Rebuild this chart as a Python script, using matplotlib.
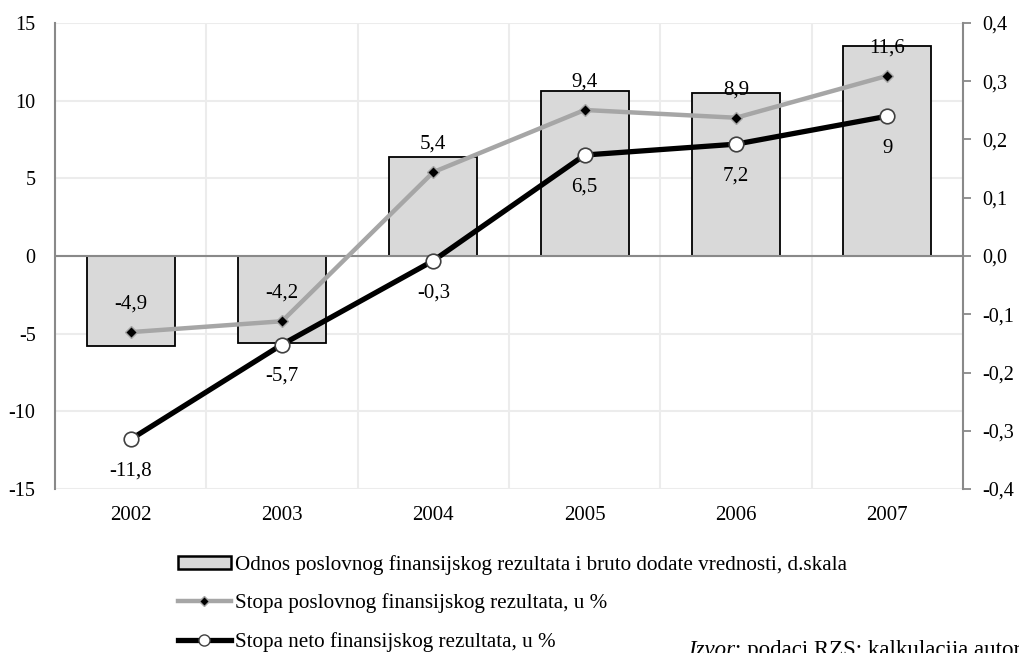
import matplotlib
matplotlib.use("Agg")
from matplotlib import pyplot as plt
from matplotlib.lines import Line2D
from matplotlib.patches import Patch

years = ["2002", "2003", "2004", "2005", "2006", "2007"]
# bars, right scale (d.skala)
odnos = [-0.155, -0.149, 0.170, 0.283, 0.280, 0.360]
# lines, left scale
stopa_poslovnog = [-4.9, -4.2, 5.4, 9.4, 8.9, 11.6]
stopa_neto = [-11.8, -5.7, -0.3, 6.5, 7.2, 9.0]

left_ticks = [-15, -10, -5, 0, 5, 10, 15]
right_ticks = [-0.4, -0.3, -0.2, -0.1, 0.0, 0.1, 0.2, 0.3, 0.4]

labels = [
    "Odnos poslovnog finansijskog rezultata i bruto dodate vrednosti, d.skala",
    "Stopa poslovnog finansijskog rezultata, u %",
    "Stopa neto finansijskog rezultata, u %",
]

plt.rcParams["font.family"] = ["Liberation Serif", "DejaVu Serif"]
FS = 15
SPINE = "#898989"
GRID = "#ECECEC"
BAR = "#D9D9D9"
GRAY_LINE = "#A6A6A6"


def fmt(v):
    if v == int(v) and abs(v) >= 1:
        return str(int(v))
    return f"{v:.1f}".replace(".", ",")


fig = plt.figure(figsize=(10.19, 6.53), dpi=100)
ax = fig.add_axes([0.054, 0.2511, 0.891, 0.7137])
ax_bar = ax.twinx()
ax_line = ax.twinx()

x = list(range(len(years)))

# background grid on left scale
ax.set_xlim(-0.5, len(years) - 0.5)
ax.set_ylim(-15, 15)
for t in left_ticks:
    ax.axhline(t, color=GRID, lw=1.5, zorder=0)
for b in range(1, len(years)):
    ax.axvline(b - 0.5, color=GRID, lw=1.5, zorder=0)
ax.set_yticks(left_ticks)
ax.set_yticklabels([str(t) for t in left_ticks], fontsize=14.5)
ax.tick_params(axis="y", length=0, pad=14)
ax.set_xticks(x)
ax.set_xticklabels(years, fontsize=FS)
ax.tick_params(axis="x", length=0, pad=12)
for side in ("top", "right", "bottom"):
    ax.spines[side].set_visible(False)
ax.spines["left"].set_color(SPINE)
ax.spines["left"].set_linewidth(1.5)

# bars on right scale
ax_bar.bar(x, odnos, width=0.58, color=BAR, edgecolor="black",
           linewidth=1.3, zorder=2)
ax_bar.axhline(0, color=SPINE, lw=1.5, zorder=3)
ax_bar.set_ylim(-0.4, 0.4)
ax_bar.set_yticks(right_ticks)
ax_bar.set_yticklabels([fmt(t) for t in right_ticks], fontsize=14.5)
ax_bar.tick_params(axis="y", length=6, width=1.3, color=SPINE, pad=8)
for side in ("top", "left", "bottom"):
    ax_bar.spines[side].set_visible(False)
ax_bar.spines["right"].set_color(SPINE)
ax_bar.spines["right"].set_linewidth(1.5)

# lines on left scale
ax_line.set_ylim(-15, 15)
ax_line.axis("off")
ax_line.plot(x, stopa_poslovnog, color=GRAY_LINE, lw=3.2, marker="D",
             markersize=6.5, markerfacecolor="black", markeredgecolor=GRAY_LINE,
             markeredgewidth=1, zorder=4)
ax_line.plot(x, stopa_neto, color="black", lw=3.8, marker="o",
             markersize=10.5, markerfacecolor="white", markeredgecolor="#404040",
             markeredgewidth=1.2, zorder=5)
for xi, v in zip(x, stopa_poslovnog):
    ax_line.annotate(fmt(v), (xi, v), xytext=(0, 20), textcoords="offset points",
                     ha="center", va="center", fontsize=FS)
for xi, v in zip(x, stopa_neto):
    ax_line.annotate(fmt(v), (xi, v), xytext=(0, -23), textcoords="offset points",
                     ha="center", va="center", fontsize=FS)

# legend
handles = [
    Patch(facecolor=BAR, edgecolor="black", linewidth=1.8),
    Line2D([], [], color=GRAY_LINE, lw=3.2, marker="D", markersize=5,
           markerfacecolor="black", markeredgecolor=GRAY_LINE),
    Line2D([], [], color="black", lw=3.8, marker="o", markersize=8,
           markerfacecolor="white", markeredgecolor="#404040"),
]
fig.legend(handles, labels, loc="upper left",
           bbox_to_anchor=(178 / 1019, 1 - 555 / 653),
           bbox_transform=fig.transFigure, frameon=False, fontsize=15.2,
           handlelength=2.5, handleheight=0.6, handletextpad=0.22,
           labelspacing=0.88, borderaxespad=0, borderpad=0)

# source note, cut off by the bottom/right edge as in the original
t1 = fig.text(688 / 1019, 1 - 656 / 653, "Izvor", fontsize=16.5,
              style="italic", ha="left", va="baseline")
ax.annotate(": podaci RZS; kalkulacija autora", xy=(1, 0), xycoords=t1,
            fontsize=16.5, ha="left", va="bottom", annotation_clip=False)

fig.savefig("out.png", dpi=100)
